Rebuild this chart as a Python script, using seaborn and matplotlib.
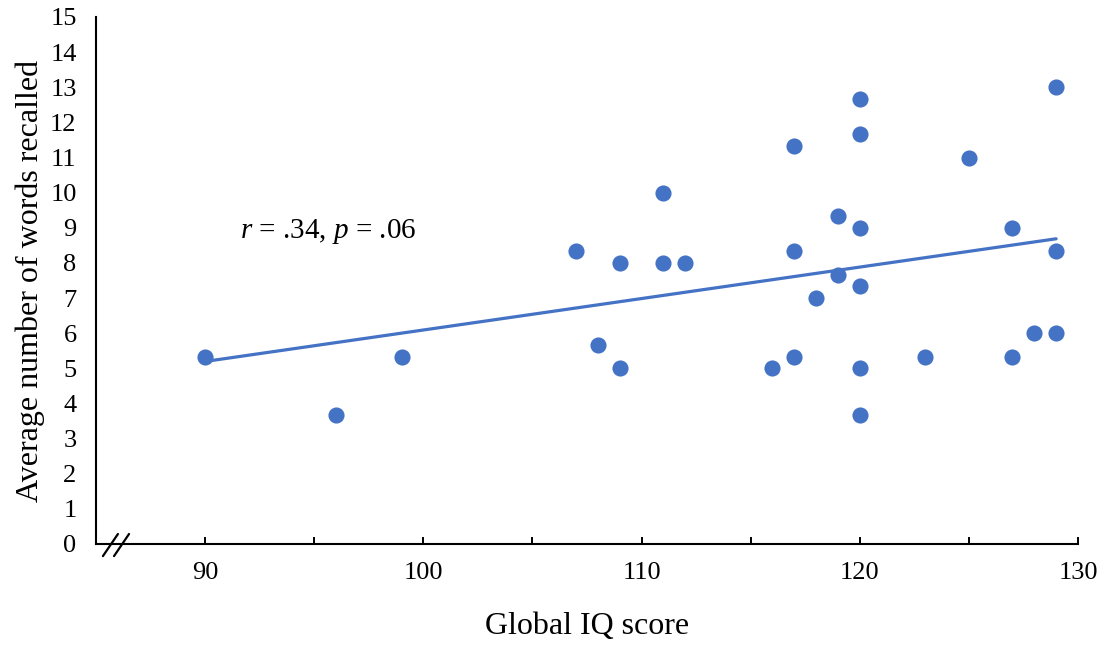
import matplotlib
matplotlib.use('Agg')
import pandas as pd
import seaborn as sns
import matplotlib.pyplot as plt

# values
iq_score = [90, 96, 99, 107, 108, 109, 109, 111, 111, 112, 116, 117, 117, 117, 118,
            119, 119, 120, 120, 120, 120, 120, 120, 123, 125, 127, 127, 128, 129, 129, 129]
words_recalled = [5.33, 3.67, 5.33, 8.33, 5.67, 8.0, 5.0, 10.0, 8.0, 8.0, 5.0, 11.33, 8.33, 5.33, 7.0,
                  9.33, 7.67, 12.67, 11.67, 9.0, 7.33, 5.0, 3.67, 5.33, 11.0, 9.0, 5.33, 6.0, 13.0, 8.33, 6.0]
x_ticks = [90, 100, 110, 120, 130]
y_ticks = list(range(0, 16))
stats_label = '$r$ = .34, $p$ = .06'

df = pd.DataFrame({'iq': iq_score, 'words': words_recalled})

sns.set_style('white')
plt.rcParams['font.family'] = ['Liberation Serif', 'DejaVu Serif']
plt.rcParams['mathtext.fontset'] = 'custom'
plt.rcParams['mathtext.rm'] = 'Liberation Serif'
plt.rcParams['mathtext.it'] = 'Liberation Serif:italic'
for key in ['text.color', 'axes.labelcolor', 'xtick.color', 'ytick.color']:
    plt.rcParams[key] = 'black'

blue = '#4472C4'
fig = plt.figure(figsize=(11.04, 6.48), dpi=100)
ax = fig.add_axes([0.087, 0.1605, 0.8894, 0.8133])

sns.regplot(data=df, x='iq', y='words', ax=ax, ci=None, color=blue,
            scatter_kws={'s': 135, 'linewidths': 0, 'alpha': 1, 'zorder': 3},
            line_kws={'linewidth': 2.3, 'zorder': 2})

ax.set_xlim(85, 130)
ax.set_ylim(0, 15)
ax.set_xticks(x_ticks)
ax.set_xticks(range(90, 131, 5), minor=True)
ax.set_yticks(y_ticks)
ax.tick_params(axis='x', which='both', direction='in', length=5, width=1.4,
               color='black', bottom=True, labelsize=19, pad=13)
ax.tick_params(axis='y', length=0, labelsize=19, pad=14)

for side in ['top', 'right']:
    ax.spines[side].set_visible(False)
for side in ['left', 'bottom']:
    ax.spines[side].set_color('black')
    ax.spines[side].set_linewidth(1.5)

ax.set_xlabel('Global IQ score', fontsize=23, labelpad=20)
ax.set_ylabel('Average number of words recalled', fontsize=23, labelpad=4)

ax.text(91.6, 8.9, stats_label, fontsize=21, ha='left', va='center')

# axis break marks
for x0 in [0.007, 0.0183]:
    ax.plot([x0, x0 + 0.0153], [-0.023, 0.019], transform=ax.transAxes,
            color='black', linewidth=1.6, clip_on=False)

fig.savefig('out.png', dpi=100)
